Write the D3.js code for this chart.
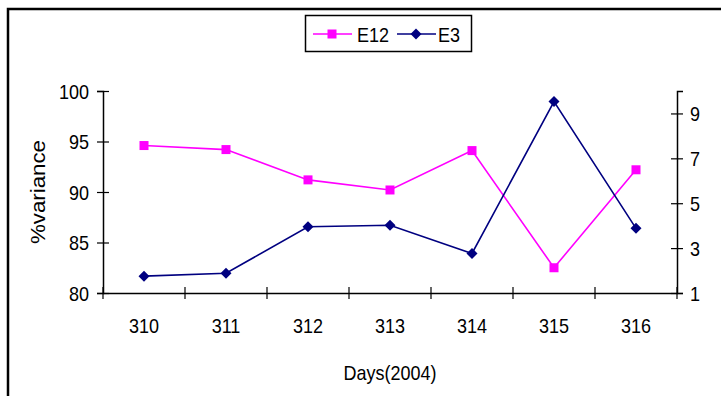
<!DOCTYPE html>
<html>
<head>
<meta charset="utf-8">
<script src="https://cdn.jsdelivr.net/npm/d3@7"></script>
<style>
  html, body { margin: 0; padding: 0; background: #fff; }
  svg { display: block; }
  text { font-family: Arial, "Liberation Sans", sans-serif; fill: #000; }
</style>
</head>
<body>
<svg id="chart" width="721" height="396"></svg>
<script>
// Daily values for days 310-316 of 2004
const days = ["310", "311", "312", "313", "314", "315", "316"];
const e12 = [94.6, 94.2, 91.2, 90.2, 94.1, 82.5, 92.2];   // left axis, %variance
const e3  = [1.75, 1.88, 3.95, 4.02, 2.76, 9.53, 3.88];   // right axis
const leftTicks = [80, 85, 90, 95, 100];
const rightTicks = [1, 3, 5, 7, 9];
const seriesNames = ["E12", "E3"];

const FS = 20;      // font size
const SX = 0.9;     // horizontal squeeze for a narrow, tall typeface look

const svg = d3.select("#chart");
const plot = { left: 103, right: 677, top: 91, bottom: 293 };

// Outer frame (runs past the right and bottom edges)
svg.append("rect")
  .attr("x", 8).attr("y", 9).attr("width", 800).attr("height", 500)
  .attr("fill", "none").attr("stroke", "#000").attr("stroke-width", 2.5);

const x = d3.scaleBand().domain(days).range([plot.left, plot.right]).padding(0);
const yL = d3.scaleLinear().domain([80, 100]).range([plot.bottom, plot.top]);
const yR = d3.scaleLinear().domain([1, 10]).range([plot.bottom, plot.top]);

// Place a text at (tx, ty) with the horizontal squeeze applied
function squeeze(sel, tx, ty) {
  sel.attr("x", 0).attr("y", 0)
    .attr("transform", `translate(${tx},${ty}) scale(${SX},1)`)
    .attr("font-size", FS).attr("fill", "#000")
    .style("font-family", "Arial, 'Liberation Sans', sans-serif");
}

// Vertical axes with ticks crossing the axis line
function styleAxis(g) {
  g.selectAll(".tick line")
    .attr("x1", -6).attr("x2", 6)
    .attr("stroke", "#000").attr("stroke-width", 1.2);
  g.select(".domain").attr("stroke", "#000").attr("stroke-width", 1.5);
}

const gL = svg.append("g").attr("transform", `translate(${plot.left},0)`)
  .call(d3.axisLeft(yL).tickValues(leftTicks).tickSizeOuter(0).tickSize(6));
styleAxis(gL);
gL.selectAll(".tick text").call(squeeze, -14, 0).attr("dy", "0.36em");

const gR = svg.append("g").attr("transform", `translate(${plot.right},0)`)
  .call(d3.axisRight(yR).tickValues(rightTicks).tickSizeOuter(0).tickSize(6));
styleAxis(gR);
gR.selectAll(".tick text").call(squeeze, 13, 0).attr("dy", "0.36em");

// Category axis: labels at band centres, ticks at band boundaries
const gX = svg.append("g").attr("transform", `translate(0,${plot.bottom})`)
  .call(d3.axisBottom(x).tickSize(0).tickSizeOuter(0));
gX.select(".domain").attr("stroke", "#000").attr("stroke-width", 1.5);
gX.selectAll(".tick text").call(squeeze, 0, 40).attr("dy", 0);
const bounds = days.map(d => x(d)).concat([x(days[days.length - 1]) + x.bandwidth()]);
gX.selectAll("line.bound").data(bounds).join("line").attr("class", "bound")
  .attr("x1", d => d).attr("x2", d => d).attr("y1", -6).attr("y2", 6)
  .attr("stroke", "#000").attr("stroke-width", 1.2);

// Axis titles
svg.append("text").attr("text-anchor", "middle").text("Days(2004)")
  .call(squeeze, (plot.left + plot.right) / 2, 380);
svg.append("text")
  .attr("transform", "translate(45,192) rotate(-90)")
  .attr("text-anchor", "middle").attr("font-size", FS)
  .attr("textLength", 104).attr("lengthAdjust", "spacingAndGlyphs")
  .text("%variance");

const cx = d => x(d) + x.bandwidth() / 2;
const pink = "#ff00ff", navy = "#000080";

// E12 series (left axis)
svg.append("path")
  .attr("d", d3.line().x((v, i) => cx(days[i])).y(v => yL(v))(e12))
  .attr("fill", "none").attr("stroke", pink).attr("stroke-width", 1.6);
svg.selectAll("rect.e12").data(e12).join("rect").attr("class", "e12")
  .attr("x", (v, i) => cx(days[i]) - 4.5).attr("y", v => yL(v) - 4.5)
  .attr("width", 9).attr("height", 9).attr("fill", pink);

// E3 series (right axis)
const diamond = (cx0, cy0, r) => `M${cx0},${cy0 - r}L${cx0 + r},${cy0}L${cx0},${cy0 + r}L${cx0 - r},${cy0}Z`;
svg.append("path")
  .attr("d", d3.line().x((v, i) => cx(days[i])).y(v => yR(v))(e3))
  .attr("fill", "none").attr("stroke", navy).attr("stroke-width", 1.6);
svg.selectAll("path.e3").data(e3).join("path").attr("class", "e3")
  .attr("d", (v, i) => diamond(cx(days[i]), yR(v), 5.5)).attr("fill", navy);

// Legend
const lg = svg.append("g");
lg.append("rect").attr("x", 305.5).attr("y", 15.5).attr("width", 166).attr("height", 36)
  .attr("fill", "#fff").attr("stroke", "#000").attr("stroke-width", 1.5);
const ly = 34;
lg.append("line").attr("x1", 313).attr("x2", 352).attr("y1", ly).attr("y2", ly)
  .attr("stroke", pink).attr("stroke-width", 1.6);
lg.append("rect").attr("x", 332 - 4.5).attr("y", ly - 4.5).attr("width", 9).attr("height", 9).attr("fill", pink);
lg.append("text").text(seriesNames[0]).call(squeeze, 357, ly + 7.5);
lg.append("line").attr("x1", 397).attr("x2", 436).attr("y1", ly).attr("y2", ly)
  .attr("stroke", navy).attr("stroke-width", 1.6);
lg.append("path").attr("d", diamond(416, ly, 5.5)).attr("fill", navy);
lg.append("text").text(seriesNames[1]).call(squeeze, 438, ly + 7.5);
</script>
</body>
</html>
